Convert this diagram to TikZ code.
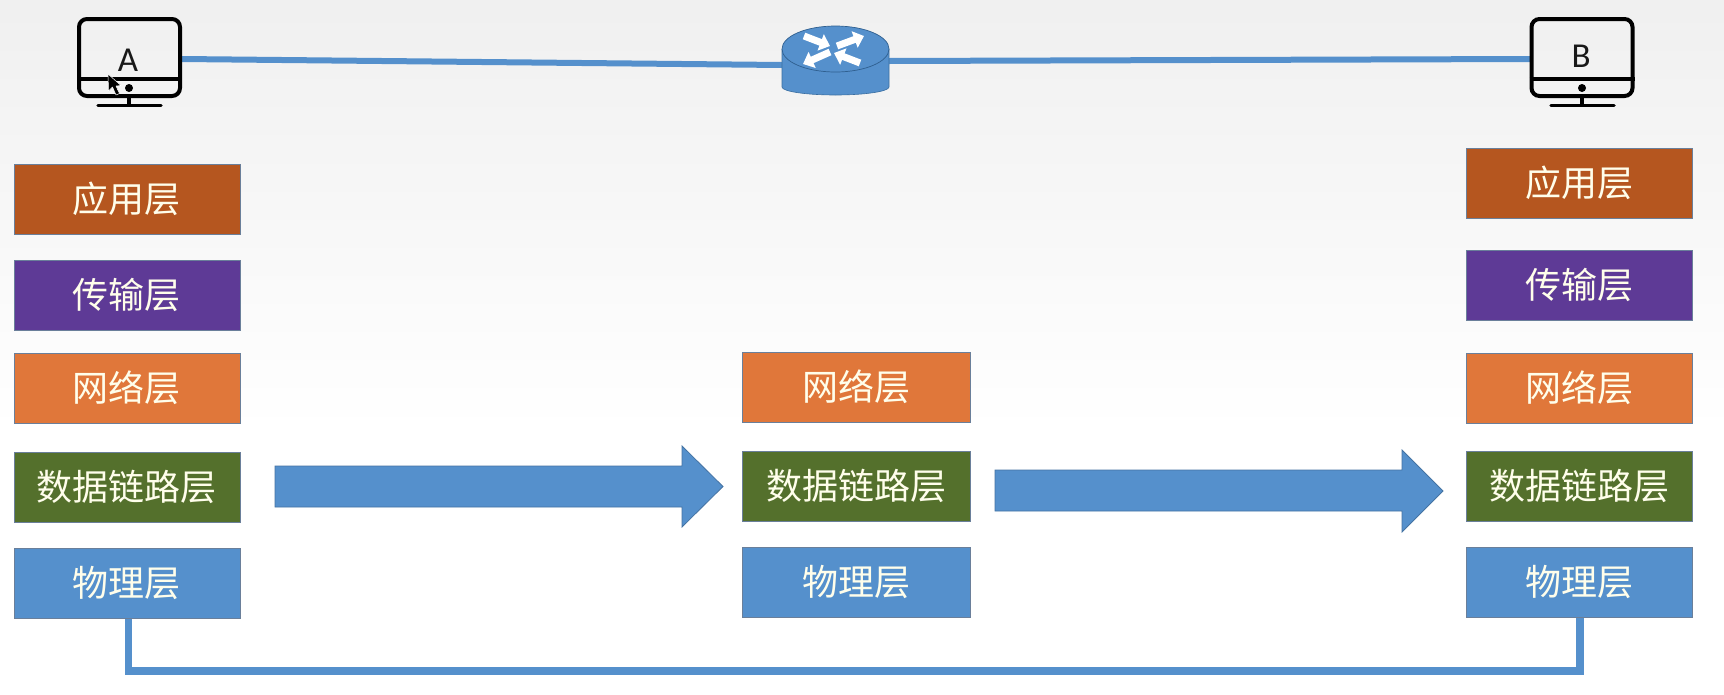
\documentclass[tikz,border=0pt]{standalone}
\usepackage{fontspec}
\setmainfont{Carlito}
\newfontfamily\cjk{Noto Sans CJK SC}
\usetikzlibrary{arrows.meta,calc}
\definecolor{appc}{HTML}{B5561F}
\definecolor{trac}{HTML}{5E3A96}
\definecolor{netc}{HTML}{E0773A}
\definecolor{linc}{HTML}{54702C}
\definecolor{phyc}{HTML}{5590CC}
\definecolor{edgec}{HTML}{6A7F9A}
\definecolor{rtedge}{HTML}{2F5F8F}
\tikzset{
  x=1pt,y=-1pt,
  layerbox/.style={draw=edgec,line width=0.9pt,text=white!92!yellow,minimum height=70pt,inner sep=0pt,outer sep=0pt,font=\cjk\fontsize{36}{40}\selectfont},
  colA/.style={layerbox,minimum width=226pt},
  colM/.style={layerbox,minimum width=228pt},
  link/.style={draw=phyc,line width=6pt},
  wire/.style={draw=phyc,line width=7.5pt,line join=miter},
  blockarrow/.style={fill=phyc,draw=phyc!80!black,line width=0.8pt},
  monframe/.style={draw=black,line width=4pt,rounded corners=8pt,minimum width=101pt,minimum height=77pt,inner sep=0pt,outer sep=2pt},
  monpart/.style={draw=black,line width=3.5pt,line cap=round},
  monbar/.style={draw=black,line width=3.5pt,line cap=butt},
  monlabel/.style={font=\fontsize{35}{40}\selectfont,text=black!90,inner sep=0pt},
  rtarrow/.style={draw=white,line width=7pt,-{Triangle[length=10pt,width=17pt]}},
}
\newcommand{\layertxt}[1]{\raisebox{4pt}{\hspace*{-1pt}#1}}
\begin{document}
\begin{tikzpicture}
\useasboundingbox (0,0) rectangle (1724,694);
\fill[white] (0,0) rectangle (1724,694);
\shade[top color=black!6,bottom color=white] (0,0) rectangle (1724,430);

% links at top
\coordinate (aout) at (182,59);
\coordinate (rl) at (782,65);
\coordinate (rr) at (889,61);
\coordinate (bin) at (1530,59);
\draw[link] (aout) -- (rl);
\draw[link] (rr) -- (bin);

% monitor A
\node[monframe] (monA) at (129.5,57.5) {};
\draw[monbar] (monA.west |- 0,79) -- (monA.east |- 0,79);
\fill (129,88) circle (4);
\draw[monpart] (129,98) -- (129,105);
\draw[monpart] (98,105.5) -- (161,105.5);
\node[monlabel] (labA) at (128,60) {A};
% pointer
\draw[fill=black,draw=white,line width=0.5pt,line join=round]
  (108,74) -- (108.5,91) -- (112.5,87) -- (116,95) -- (119.5,93.5) -- (116,86) -- (121,85.5) -- cycle;

% monitor B
\node[monframe] (monB) at (1582,57.5) {};
\draw[monbar] (monB.west |- 0,79) -- (monB.east |- 0,79);
\fill (1582,88) circle (4);
\draw[monpart] (1582,98) -- (1582,105);
\draw[monpart] (1551,105.5) -- (1614,105.5);
\node[monlabel] (labB) at (1581,56) {B};

% router
\fill[phyc] (782,49) -- (782,87) arc[start angle=180,end angle=0,x radius=53.5,y radius=8] -- (889,49) -- cycle;
\draw[rtedge!70!phyc,line width=0.6pt] (782,49) -- (782,87) arc[start angle=180,end angle=0,x radius=53.5,y radius=8] -- (889,49);
\draw[fill=phyc,draw=rtedge,line width=0.7pt] (835.5,49) ellipse[x radius=53.5,y radius=23];
\coordinate (a1s) at (804,36); \coordinate (a1e) at (830,46);
\coordinate (a2s) at (837,46); \coordinate (a2e) at (864,36);
\coordinate (a3s) at (830,52); \coordinate (a3e) at (803,64);
\coordinate (a4s) at (860,63); \coordinate (a4e) at (834,53);
\draw[rtarrow] (a1s) -- (a1e);
\draw[rtarrow] (a2s) -- (a2e);
\draw[rtarrow] (a3s) -- (a3e);
\draw[rtarrow] (a4s) -- (a4e);

% bottom wire (under the boxes)
\coordinate (wa) at (128.5,615);
\coordinate (wc) at (1580,671);
\coordinate (wb) at (1580,615);
\draw[wire] (wa) |- (wc) -- (wb);

% column A
\node[colA,fill=appc] (a1) at (127,199.5) {\layertxt{应用层}};
\node[colA,fill=trac] (a2) at (127,295) {\layertxt{传输层}};
\node[colA,fill=netc] (a3) at (127,388) {\layertxt{网络层}};
\node[colA,fill=linc] (a4) at (127,487.5) {\layertxt{数据链路层}};
\node[colA,fill=phyc] (a5) at (127,583.5) {\layertxt{物理层}};
% column M
\node[colM,fill=netc] (m3) at (856.5,387.5) {\layertxt{网络层}};
\node[colM,fill=linc] (m4) at (856.5,486.5) {\layertxt{数据链路层}};
\node[colM,fill=phyc] (m5) at (856.5,582) {\layertxt{物理层}};
% column B
\node[colA,fill=appc] (b1) at (1579.5,183.5) {\layertxt{应用层}};
\node[colA,fill=trac] (b2) at (1579.5,285.5) {\layertxt{传输层}};
\node[colA,fill=netc] (b3) at (1579.5,388) {\layertxt{网络层}};
\node[colA,fill=linc] (b4) at (1579.5,486.5) {\layertxt{数据链路层}};
\node[colA,fill=phyc] (b5) at (1579.5,582.5) {\layertxt{物理层}};

% block arrows
\draw[blockarrow] (275,466) -- (682,466) -- (682,446) -- (723,486.5) -- (682,527) -- (682,507) -- (275,507) -- cycle;
\draw[blockarrow] (995,470) -- (1402,470) -- (1402,450) -- (1443,491) -- (1402,532) -- (1402,511) -- (995,511) -- cycle;
\end{tikzpicture}
\end{document}
